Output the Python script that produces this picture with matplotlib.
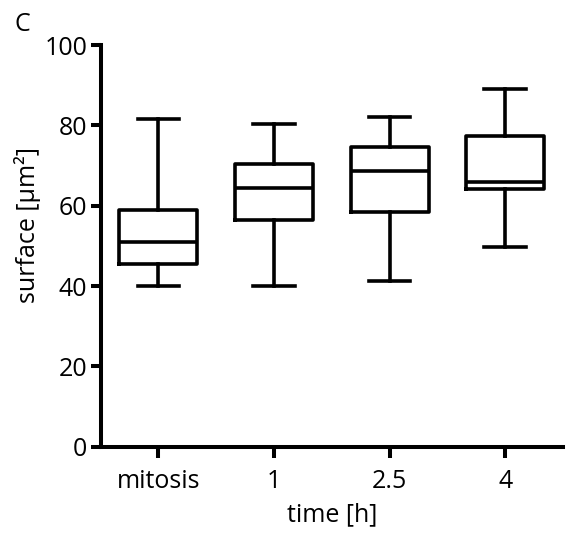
import matplotlib
matplotlib.use("Agg")
import matplotlib.pyplot as plt

# Cell surface over time after mitosis (box = quartiles, whiskers = min/max)
categories = ["mitosis", "1", "2.5", "4"]
whisker_low = [40.0, 40.0, 41.2, 49.8]
q1 = [45.6, 56.4, 58.5, 64.2]
median = [50.9, 64.5, 68.7, 66.0]
q3 = [58.9, 70.4, 74.5, 77.3]
whisker_high = [81.6, 80.3, 82.2, 89.0]

y_ticks = [0, 20, 40, 60, 80, 100]

plt.rcParams["font.family"] = ["Open Sans", "DejaVu Sans"]

stats = []
for i, name in enumerate(categories):
    stats.append({
        "label": name,
        "whislo": whisker_low[i],
        "q1": q1[i],
        "med": median[i],
        "q3": q3[i],
        "whishi": whisker_high[i],
        "fliers": [],
    })

fig = plt.figure(figsize=(5.67, 5.36), dpi=100)
ax = fig.add_axes([0.1773, 0.1666, 0.8157, 0.7494])

lw = 2.6
ax.bxp(
    stats,
    positions=range(len(categories)),
    widths=0.675,
    showfliers=False,
    boxprops=dict(color="black", linewidth=lw),
    medianprops=dict(color="black", linewidth=lw),
    whiskerprops=dict(color="black", linewidth=lw),
    capprops=dict(color="black", linewidth=lw),
    capwidths=0.36,
)

ax.set_xlim(-0.5, 3.5)
ax.set_ylim(0, 100)
ax.set_yticks(y_ticks)
ax.set_xticks(range(len(categories)))
ax.set_xticklabels(categories)

for side in ["top", "right"]:
    ax.spines[side].set_visible(False)
for side in ["left", "bottom"]:
    ax.spines[side].set_linewidth(2.9)
    ax.spines[side].set_capstyle("projecting")

ax.tick_params(axis="both", width=2.9, labelsize=18, color="black")
ax.tick_params(axis="y", length=7.5, pad=2)
ax.tick_params(axis="x", length=8, pad=8)

ax.set_ylabel("surface [µm²]", fontsize=18)
ax.yaxis.set_label_coords(-0.128, 0.553)
ax.set_xlabel("time [h]", fontsize=18, labelpad=6)

fig.text(0.026, 0.978, "C", fontsize=18, ha="left", va="top")

fig.savefig("out.png", dpi=100)
